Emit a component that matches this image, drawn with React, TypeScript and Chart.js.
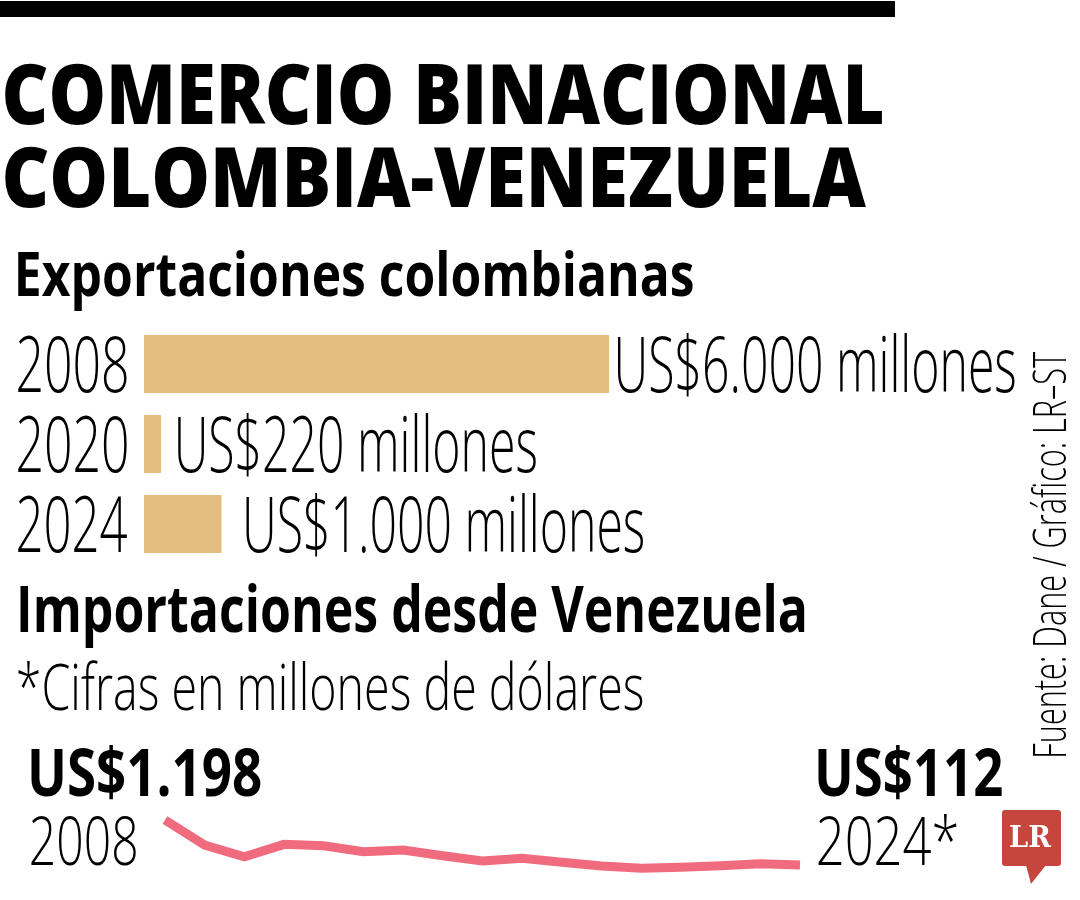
import React, { useEffect, useRef } from 'react';
import { Chart, registerables } from 'chart.js';

Chart.register(...registerables);

// ---------- DATA ----------
const exportYears = ['2008', '2020', '2024'];
const exportValues = [6000, 220, 1000];

const importYears = ['2008', '2009', '2010', '2011', '2012', '2013', '2014', '2015', '2016', '2017', '2018', '2019', '2020', '2021', '2022', '2023', '2024'];
const importValues = [1198, 590, 311, 610, 577, 432, 473, 335, 208, 273, 176, 87, 31, 55, 94, 142, 112];

const titleLines = ['COMERCIO BINACIONAL', 'COLOMBIA-VENEZUELA'];
const exportTitle = 'Exportaciones colombianas';
const importTitle = 'Importaciones desde Venezuela';
const unitNote = '*Cifras en millones de dólares';
const sourceText = 'Fuente: Dane / Gráfico: LR–ST';
const lastYearMark = '*';

// ---------- STYLE ----------
const BAR_COLOR = '#e4be80';
const LINE_COLOR = '#f06b7e';
const LOGO_RED = '#c6463d';
const FAMILY = '"Open Sans", "Noto Sans", "DejaVu Sans", sans-serif';
const CAP = 0.714;

const fmt = (n: number) => String(n).replace(/\B(?=(\d{3})+(?!\d))/g, '.');

function fontOf(weight: number, cap: number, family = FAMILY) {
  return `${weight} ${(cap / CAP).toFixed(1)}px ${family}`;
}

function inkBox(ctx: CanvasRenderingContext2D, text: string, font: string) {
  ctx.font = font;
  const m = ctx.measureText(text);
  return { left: m.actualBoundingBoxLeft, width: m.actualBoundingBoxLeft + m.actualBoundingBoxRight };
}

function drawScaled(ctx: CanvasRenderingContext2D, text: string, left: number, baseline: number, font: string, sx: number, color: string) {
  ctx.save();
  ctx.font = font;
  ctx.textAlign = 'left';
  ctx.textBaseline = 'alphabetic';
  ctx.fillStyle = color;
  const b = inkBox(ctx, text, font);
  ctx.translate(left, baseline);
  ctx.scale(sx, 1);
  ctx.fillText(text, b.left, 0);
  ctx.restore();
}

function fitText(ctx: CanvasRenderingContext2D, text: string, left: number, right: number, baseline: number, font: string, color = '#000') {
  const b = inkBox(ctx, text, font);
  const sx = (right - left) / b.width;
  drawScaled(ctx, text, left, baseline, font, sx, color);
  return sx;
}

const textPlugin = {
  id: 'infographicText',
  afterDraw(chart: any) {
    const ctx: CanvasRenderingContext2D = chart.ctx;
    ctx.save();
    // top rule
    ctx.fillStyle = '#000';
    ctx.fillRect(0, 1, 895, 16);

    const bold = fontOf(800, 59);
    fitText(ctx, titleLines[0], 5, 882, 124, bold);
    fitText(ctx, titleLines[1], 5, 866, 207, bold);

    fitText(ctx, exportTitle, 18, 693, 296, fontOf(700, 43));

    // bar labels
    const meta = chart.getDatasetMeta(0);
    const light = fontOf(300, 55);
    const firstLabel = `US$${fmt(exportValues[0])} millones`;
    const ref = inkBox(ctx, firstLabel, light);
    const sxLight = 397 / ref.width;
    const gaps = [9, 17, 25];
    meta.data.forEach((bar: any, i: number) => {
      const base = bar.y + 28;
      fitText(ctx, exportYears[i], 18, 127, base, light);
      drawScaled(ctx, `US$${fmt(exportValues[i])} millones`, bar.x + gaps[i], base, light, sxLight, '#000');
    });

    fitText(ctx, importTitle, 20, 805, 632, fontOf(700, 46));
    fitText(ctx, unitNote, 18, 643, 710, fontOf(300, 46));

    // line end labels
    const n = importValues.length;
    fitText(ctx, `US$${fmt(importValues[0])}`, 31, 261, 796, fontOf(700, 47));
    fitText(ctx, importYears[0], 31, 136, 865, fontOf(300, 47));
    fitText(ctx, `US$${fmt(importValues[n - 1])}`, 818, 1002, 796, fontOf(700, 47));
    fitText(ctx, importYears[n - 1] + lastYearMark, 818, 957, 865, fontOf(300, 47));

    // rotated source
    ctx.save();
    ctx.translate(1066, 756);
    ctx.rotate(-Math.PI / 2);
    fitText(ctx, sourceText, 0, 404, 0, fontOf(300, 33));
    ctx.restore();

    // LR logo
    ctx.fillStyle = LOGO_RED;
    ctx.beginPath();
    (ctx as any).roundRect(1002, 810, 59, 56, 3);
    ctx.fill();
    ctx.beginPath();
    ctx.moveTo(1026, 865);
    ctx.lineTo(1046, 865);
    ctx.lineTo(1031, 884);
    ctx.closePath();
    ctx.fill();
    fitText(ctx, 'LR', 1010, 1052, 847, `700 30px "DejaVu Serif", "Liberation Serif", serif`, '#fff');
    ctx.restore();
  },
};

export default function App() {
  const barRef = useRef<HTMLCanvasElement>(null);
  const lineRef = useRef<HTMLCanvasElement>(null);

  useEffect(() => {
    const barChart = new Chart(barRef.current as HTMLCanvasElement, {
      type: 'bar',
      data: {
        labels: exportYears,
        datasets: [{
          data: exportValues,
          backgroundColor: BAR_COLOR,
          borderWidth: 0,
          barPercentage: 0.725,
          categoryPercentage: 1,
        }],
      },
      options: {
        indexAxis: 'y',
        responsive: false,
        animation: false,
        layout: { padding: { left: 144, right: 1080 - 609, top: 324, bottom: 900 - 564 } },
        scales: {
          x: { display: false, min: 0, max: 6000 },
          y: { display: false },
        },
        plugins: { legend: { display: false }, tooltip: { enabled: false } },
      },
      plugins: [textPlugin],
    } as any);

    const lineChart = new Chart(lineRef.current as HTMLCanvasElement, {
      type: 'line',
      data: {
        labels: importYears,
        datasets: [{
          data: importValues,
          borderColor: LINE_COLOR,
          borderWidth: 9,
          pointRadius: 0,
          tension: 0,
          fill: false,
          clip: false,
          borderCapStyle: 'butt',
          borderJoinStyle: 'miter',
        }],
      },
      options: {
        responsive: false,
        animation: false,
        layout: { padding: { left: 165, right: 1080 - 800, top: 820, bottom: 30.4 } },
        scales: {
          x: { display: false },
          y: { display: false, min: 0, max: 1198 },
        },
        plugins: { legend: { display: false }, tooltip: { enabled: false } },
      },
    } as any);

    return () => {
      barChart.destroy();
      lineChart.destroy();
    };
  }, []);

  return (
    <div style={{ position: 'absolute', left: 0, top: 0, width: 1080, height: 900, background: '#fff', overflow: 'hidden' }}>
      <canvas ref={barRef} width={1080} height={900} style={{ position: 'absolute', left: 0, top: 0 }} />
      <canvas ref={lineRef} width={1080} height={900} style={{ position: 'absolute', left: 0, top: 0 }} />
    </div>
  );
}
